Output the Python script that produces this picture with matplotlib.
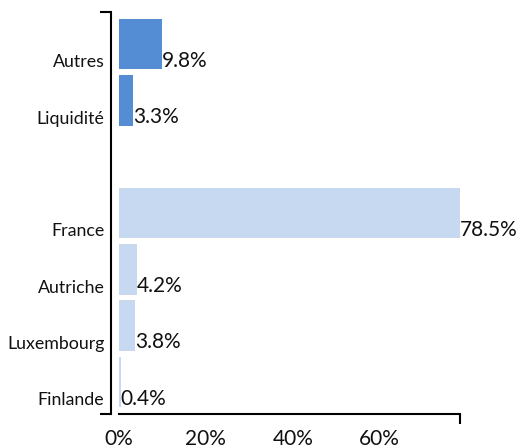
import matplotlib.pyplot as plt
from matplotlib.ticker import FixedLocator

plt.rcParams["font.family"] = ["Lato", "DejaVu Sans"]

labels = ["Autres", "Liquidité", "France", "Autriche", "Luxembourg", "Finlande"]
values = [9.8, 3.3, 78.5, 4.2, 3.8, 0.4]
groups = ["other", "other", "country", "country", "country", "country"]

colors = {"other": "#548DD4", "country": "#C6D9F1"}

# leave an empty row between the two groups
positions = []
row = 0
for i, g in enumerate(groups):
    if i > 0 and g != groups[i - 1]:
        row += 1
    positions.append(row)
    row += 1

fig = plt.figure(figsize=(5.18, 4.48), dpi=100)
ax = fig.add_axes([0.2297, 0.0759, 0.8880 - 0.2297, 0.9732 - 0.0759])

ax.barh(positions, values, height=0.9, color=[colors[g] for g in groups])

for p, v in zip(positions, values):
    ax.text(v, p + 0.3, f"{v:.1f}%", ha="left", va="center",
            fontsize=15, color="#111111", clip_on=False)

ymin, ymax = positions[-1] + 0.57, positions[0] - 0.57
ax.set_ylim(ymin, ymax)
ax.set_xlim(0, max(values))

ax.set_yticks([p + 0.3 for p in positions])
ax.set_yticklabels(labels)
ax.set_xticks([0, 20, 40, 60])
ax.set_xticklabels(["0%", "20%", "40%", "60%"])
ax.tick_params(axis="both", which="major", length=0, labelcolor="#111111")
ax.tick_params(axis="y", which="major", pad=4.5, labelsize=12.8)
ax.tick_params(axis="x", which="major", pad=11, labelsize=15)

# bracket ends on the axis lines
ax.xaxis.set_minor_locator(FixedLocator([0, max(values)]))
ax.yaxis.set_minor_locator(FixedLocator([ymin, ymax]))
ax.tick_params(axis="x", which="minor", length=7, width=1.5, direction="out")
ax.tick_params(axis="y", which="minor", length=8, width=1.5, direction="out")

for side in ["top", "right"]:
    ax.spines[side].set_visible(False)
ax.spines["left"].set_position(("outward", 6))
ax.spines["left"].set_linewidth(1.5)
ax.spines["bottom"].set_linewidth(1.5)

fig.savefig("out.png", dpi=100)
